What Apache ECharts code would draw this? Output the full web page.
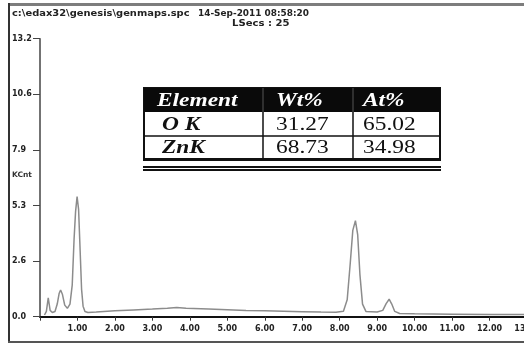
<!DOCTYPE html>
<html>
<head>
<meta charset="utf-8">
<script src="https://cdn.jsdelivr.net/npm/echarts@6/dist/echarts.min.js"></script>
<style>
html,body{margin:0;padding:0;background:#fff;}
#c{width:524px;height:345px;}
</style>
</head>
<body>
<div id="c"></div>
<script>
// Spectrum (energy keV, KCnt)
const energy = [0.12,0.17,0.22,0.27,0.33,0.40,0.46,0.51,0.55,0.60,0.66,0.73,0.80,0.86,0.91,0.95,0.99,1.03,1.07,1.11,1.15,1.20,1.28,1.5,2.0,2.5,3.0,3.4,3.65,3.9,4.5,5.0,5.5,6.0,6.5,7.0,7.5,7.9,8.1,8.2,8.28,8.35,8.42,8.48,8.54,8.61,8.7,9.0,9.15,9.24,9.32,9.39,9.47,9.6,10.0,11.0,12.0,13.0];
const counts = [0.08,0.25,0.90,0.30,0.20,0.25,0.60,1.10,1.27,1.05,0.55,0.40,0.60,1.50,3.70,5.00,5.70,5.10,3.20,1.30,0.50,0.25,0.20,0.22,0.28,0.32,0.36,0.40,0.44,0.40,0.36,0.33,0.30,0.28,0.26,0.24,0.22,0.21,0.26,0.80,2.50,4.10,4.56,3.90,2.00,0.60,0.25,0.22,0.30,0.62,0.83,0.60,0.25,0.15,0.14,0.12,0.10,0.10];

// Peak annotations
const annNames = ['O','Zn','Zn'];
const annX = [0.54, 1.10, 8.65];
const annY = [1.65, 6.10, 1.55];

// Axis ticks
const yTicks = [0.0, 2.6, 5.3, 7.9, 10.6, 13.2];

// Header texts
const headerPath = 'c:\\edax32\\genesis\\genmaps.spc';
const headerDate = '14-Sep-2011 08:58:20';
const headerLsecs = 'LSecs : 25';
const yUnit = 'KCnt';

// Composition table
const tableHeader = ['Element','Wt%','At%'];
const tableRows = [['O K','31.27','65.02'],['ZnK','68.73','34.98']];

const chart = echarts.init(document.getElementById('c'), null, {renderer:'canvas'});
const SANS = '"DejaVu Sans", sans-serif';
const SERIF = '"Liberation Serif", serif';

// table geometry
const tX0 = 144, tX1 = 440, tY0 = 88;
const rowH = [24, 24, 23];
const colX = [144, 263, 353];
const textX = [157, 276, 363];
const graphic = [];
// image frame
graphic.push({type:'rect', shape:{x:9, y:3, width:515, height:3}, style:{fill:'#7d7d7d'}, silent:true});
graphic.push({type:'rect', shape:{x:8, y:3, width:2, height:340}, style:{fill:'#333'}, silent:true});
graphic.push({type:'rect', shape:{x:8, y:341, width:516, height:2}, style:{fill:'#555'}, silent:true});
// header texts
graphic.push({type:'text', x:12, y:14, scaleX:1.1, style:{text:headerPath, font:'bold 9px '+SANS, fill:'#222', textVerticalAlign:'middle'}});
graphic.push({type:'text', x:198, y:14, scaleX:0.99, style:{text:headerDate, font:'bold 9px '+SANS, fill:'#222', textVerticalAlign:'middle'}});
graphic.push({type:'text', x:232, y:24, scaleX:1.12, style:{text:headerLsecs, font:'bold 9px '+SANS, fill:'#222', textVerticalAlign:'middle'}});
graphic.push({type:'text', x:12, y:175, style:{text:yUnit, font:'bold 7.5px '+SANS, fill:'#333', textVerticalAlign:'middle'}});

// table
let tY1 = tY0 + rowH[0] + rowH[1] + rowH[2];
graphic.push({type:'rect', shape:{x:tX0, y:tY0, width:tX1-tX0, height:tY1-tY0}, style:{fill:'#fff', stroke:'#111', lineWidth:2}, z:10});
graphic.push({type:'rect', shape:{x:tX0, y:tY0, width:tX1-tX0, height:rowH[0]}, style:{fill:'#0a0a0a'}, z:11});
graphic.push({type:'line', shape:{x1:tX0, y1:tY0+rowH[0]+rowH[1], x2:tX1, y2:tY0+rowH[0]+rowH[1]}, style:{stroke:'#111', lineWidth:1.5}, z:11});
for (let c = 1; c < 3; c++) {
  graphic.push({type:'line', shape:{x1:colX[c], y1:tY0+rowH[0], x2:colX[c], y2:tY1}, style:{stroke:'#111', lineWidth:1.5}, z:11});
  graphic.push({type:'line', shape:{x1:colX[c], y1:tY0, x2:colX[c], y2:tY0+rowH[0]}, style:{stroke:'#555', lineWidth:1}, z:12});
}
graphic.push({type:'rect', shape:{x:tX0-1, y:tY1-1, width:tX1-tX0+2, height:3}, style:{fill:'#111'}, z:12});
graphic.push({type:'rect', shape:{x:tX0-1, y:166, width:tX1-tX0+2, height:2}, style:{fill:'#111'}, z:12});
graphic.push({type:'rect', shape:{x:tX0-1, y:169, width:tX1-tX0+2, height:2}, style:{fill:'#111'}, z:12});
for (let c = 0; c < 3; c++) {
  graphic.push({type:'text', x:textX[c], y:tY0+rowH[0]/2+1, scaleX:1.3, z:13,
    style:{text:tableHeader[c], font:'italic bold 18px '+SERIF, fill:'#fff', textVerticalAlign:'middle'}});
}
let yy = tY0 + rowH[0];
for (let r = 0; r < tableRows.length; r++) {
  const cy = yy + rowH[r+1]/2 + 1;
  for (let c = 0; c < 3; c++) {
    const isLabel = c === 0;
    graphic.push({type:'text', x: isLabel ? textX[0]+5 : textX[c], y:cy, scaleX:1.3, z:13,
      style:{text:tableRows[r][c], font:(isLabel?'italic bold ':'')+'18px '+SERIF, fill:'#111', textVerticalAlign:'middle'}});
  }
  yy += rowH[r+1];
}

const option = {
  animation:false,
  backgroundColor:'#fff',
  grid:{left:40, top:38.7, width:487, height:278, containLabel:false, outerBoundsMode:'none'},
  xAxis:{
    type:'value', min:0, max:13, interval:1,
    axisLine:{show:true, lineStyle:{color:'#111', width:2}},
    axisTick:{show:true, length:4, lineStyle:{color:'#333', width:1}},
    axisLabel:{fontSize:8, fontWeight:'bold', fontFamily:'DejaVu Sans', color:'#222', margin:8,
      formatter:v => v === 0 ? '' : v.toFixed(2)},
    splitLine:{show:false}
  },
  yAxis:{
    type:'value', min:0, max:13.2, interval:2.64,
    axisLine:{show:true, lineStyle:{color:'#444', width:1.5}},
    axisTick:{show:true, length:7, lineStyle:{color:'#444', width:1}},
    axisLabel:{fontSize:8, fontWeight:'bold', fontFamily:'DejaVu Sans', color:'#222', margin:28, align:'left',
      formatter:(v) => { const i = Math.round(v/2.64); return yTicks[i] !== undefined ? yTicks[i].toFixed(1) : v.toFixed(1); }},
    splitLine:{show:false}
  },
  series:[
    {type:'line', data:energy.map((e,i)=>[e,counts[i]]), showSymbol:false, symbol:'none',
     lineStyle:{color:'#8c8c8c', width:1.5}, z:3},
    {type:'scatter', data:annX.map((x,i)=>({value:[x,annY[i]], name:annNames[i]})), symbolSize:1,
     itemStyle:{opacity:0},
     label:{show:true, position:'inside', formatter:'{b}', fontSize:8, fontWeight:'bold', fontFamily:'DejaVu Sans', color:'#222'}, z:4}
  ],
  graphic:graphic
};
chart.setOption(option);
</script>
</body>
</html>
